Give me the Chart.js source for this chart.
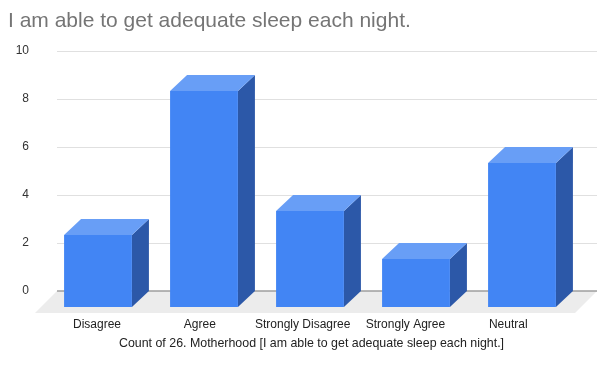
<!DOCTYPE html>
<html>
<head>
<meta charset="utf-8">
<script src="https://cdn.jsdelivr.net/npm/chart.js@4/dist/chart.umd.min.js"></script>
<style>
  html, body { margin: 0; padding: 0; background: #ffffff; }
  #wrap { width: 597px; height: 367px; position: relative; }
</style>
</head>
<body>
<div id="wrap"><canvas id="chart" width="597" height="367"></canvas></div>
<script>
// Survey answers and how many respondents gave each one
const categories = ['Disagree', 'Agree', 'Strongly Disagree', 'Strongly Agree', 'Neutral'];
const counts = [3, 9, 4, 2, 6];
const yTickValues = [0, 2, 4, 6, 8, 10];

const chartTitle = 'I am able to get adequate sleep each night.';
const xAxisTitle = 'Count of 26. Motherhood [I am able to get adequate sleep each night.]';

const FONT = '"Liberation Sans", Arial, Helvetica, sans-serif';

// Depth of the extruded columns and of the floor slab
const DEPTH_X = 17;
const DEPTH_Y = 16;
const FLOOR_DEPTH = 22;

const COLOR_FRONT = '#4285f4';
const COLOR_TOP = '#689ef6';
const COLOR_SIDE = '#2c58a8';

// Floor, gridlines and the zero line behind the columns
const backdrop = {
  id: 'backdrop',
  beforeDatasetsDraw(chart) {
    const { ctx, chartArea: a, scales: { y } } = chart;
    const left = a.left - 5, right = a.right + 5;
    const y0 = y.getPixelForValue(0);
    ctx.save();
    // gridlines
    ctx.strokeStyle = '#e0e0e0';
    ctx.lineWidth = 1;
    yTickValues.forEach(v => {
      if (v === 0) return;
      const py = Math.round(y.getPixelForValue(v)) + 0.5;
      ctx.beginPath();
      ctx.moveTo(left, py);
      ctx.lineTo(right, py);
      ctx.stroke();
    });
    // floor slab
    ctx.fillStyle = '#ececec';
    ctx.beginPath();
    ctx.moveTo(left, y0);
    ctx.lineTo(right, y0);
    ctx.lineTo(right - FLOOR_DEPTH, y0 + FLOOR_DEPTH);
    ctx.lineTo(left - FLOOR_DEPTH, y0 + FLOOR_DEPTH);
    ctx.closePath();
    ctx.fill();
    // zero line
    ctx.strokeStyle = '#9e9e9e';
    ctx.lineWidth = 1.5;
    ctx.beginPath();
    ctx.moveTo(left, y0);
    ctx.lineTo(right, y0);
    ctx.stroke();
    ctx.restore();
  }
};

// Extruded columns built on the bar elements, plus category labels and titles
const columns3d = {
  id: 'columns3d',
  afterDatasetsDraw(chart) {
    const { ctx, chartArea: a, scales: { x } } = chart;
    const meta = chart.getDatasetMeta(0);
    ctx.save();
    meta.data.forEach(bar => {
      const p = bar.getProps(['x', 'y', 'base', 'width'], true);
      const bl = p.x - p.width / 2, br = p.x + p.width / 2;
      const top = p.y, base = p.base;
      const fl = bl - DEPTH_X, fr = br - DEPTH_X;
      const ft = top + DEPTH_Y, fb = base + DEPTH_Y;
      // side face
      ctx.fillStyle = COLOR_SIDE;
      ctx.beginPath();
      ctx.moveTo(br, top); ctx.lineTo(br, base); ctx.lineTo(fr, fb); ctx.lineTo(fr, ft);
      ctx.closePath(); ctx.fill();
      // top face
      ctx.fillStyle = COLOR_TOP;
      ctx.beginPath();
      ctx.moveTo(bl, top); ctx.lineTo(br, top); ctx.lineTo(fr, ft); ctx.lineTo(fl, ft);
      ctx.closePath(); ctx.fill();
      // front face
      ctx.fillStyle = COLOR_FRONT;
      ctx.fillRect(fl, ft, fr - fl, fb - ft);
    });

    // category labels along the front of the floor
    const step = x.getPixelForValue(1) - x.getPixelForValue(0);
    const startX = x.getPixelForValue(0) - DEPTH_X - 1;
    ctx.fillStyle = '#222222';
    ctx.font = '12px ' + FONT;
    ctx.textAlign = 'center';
    ctx.textBaseline = 'middle';
    categories.forEach((c, i) => {
      ctx.fillText(c, startX + i * step * 0.97, 325);
    });

    // axis title
    ctx.font = '12.4px ' + FONT;
    ctx.fillText(xAxisTitle, (a.left + a.right) / 2 - 15.5, 343.5);

    // chart title
    ctx.fillStyle = '#757575';
    ctx.font = '21px ' + FONT;
    ctx.textAlign = 'left';
    ctx.textBaseline = 'alphabetic';
    ctx.fillText(chartTitle, 8, 27);
    ctx.restore();
  }
};

new Chart(document.getElementById('chart'), {
  type: 'bar',
  data: {
    labels: categories,
    datasets: [{
      data: counts,
      backgroundColor: 'rgba(0,0,0,0)',
      borderWidth: 0,
      categoryPercentage: 1,
      barPercentage: 0.64
    }]
  },
  options: {
    responsive: false,
    animation: false,
    events: [],
    layout: { padding: { top: 51, right: 5, bottom: 76, left: 0 } },
    plugins: {
      legend: { display: false },
      title: { display: false },
      tooltip: { enabled: false }
    },
    scales: {
      x: { display: false },
      y: {
        min: 0,
        max: 10,
        afterFit(scale) { scale.width = 62; },
        afterBuildTicks(scale) { scale.ticks = yTickValues.map(v => ({ value: v })); },
        grid: { display: false, drawTicks: false },
        border: { display: false },
        ticks: {
          padding: 33,
          color: '#333333',
          font: { family: FONT, size: 12 }
        }
      }
    }
  },
  plugins: [backdrop, columns3d]
});
</script>
</body>
</html>
